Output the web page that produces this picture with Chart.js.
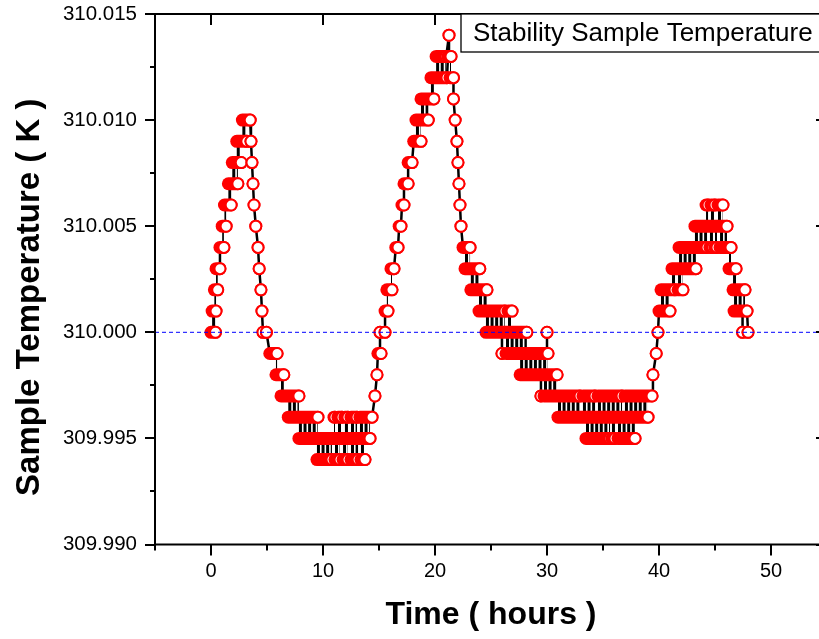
<!DOCTYPE html>
<html>
<head>
<meta charset="utf-8">
<script src="https://cdn.jsdelivr.net/npm/chart.js@4.4.1/dist/chart.umd.min.js"></script>
<style>
  html, body { margin: 0; padding: 0; background: #fff; overflow: hidden; }
  #wrap { position: relative; width: 840px; height: 639px; }
</style>
</head>
<body>
<div id="wrap"><canvas id="chart"></canvas></div>
<script>
// setpoint and axis ticks
const setpointK = 310.000;
const xTickValues = [0, 10, 20, 30, 40, 50];
const xMinorTicks = [-5, 5, 15, 25, 35, 45, 55];
const yTickValues = [309.990, 309.995, 310.000, 310.005, 310.010, 310.015];
const yMinorTicks = [309.9925, 309.9975, 310.0025, 310.0075, 310.0125];

// time windows (hours) in which the sensor kept reading a value (K),
// sorted by start; windows of neighbouring values overlap where the reading flickers
const runStart = [
  0.00, 0.10, 0.30, 0.45, 0.80, 1.00, 1.20, 1.55, 1.90, 2.30,
  2.80, 3.57, 3.66, 3.75, 3.84, 4.00, 4.20, 4.30, 4.46, 4.55,
  4.64, 4.95, 5.25, 5.80, 6.25, 6.90, 7.85, 9.46, 10.98, 11.07,
  11.34, 11.79, 11.96, 12.50, 12.50, 13.30, 13.39, 14.64, 14.82, 14.90,
  15.09, 15.54, 15.54, 15.70, 16.07, 16.50, 16.80, 17.05, 17.23, 17.60,
  18.10, 18.30, 18.75, 19.64, 20.10, 21.16, 21.25, 21.34, 21.65, 21.80,
  21.96, 22.05, 22.14, 22.23, 22.32, 22.50, 22.68, 23.20, 23.93, 24.55,
  25.98, 26.34, 26.52, 27.60, 29.46, 29.73, 30.00, 30.98, 33.21, 33.48,
  34.55, 35.80, 36.34, 36.96, 39.46, 39.75, 39.91, 40.00, 40.18, 41.16,
  41.70, 41.79, 43.21, 44.20, 44.55, 44.64, 45.00, 45.27, 45.45, 46.25,
  46.61, 46.70, 47.46, 47.95
];
const runEnd = [
  0.40, 0.45, 0.60, 0.80, 1.15, 1.35, 1.80, 2.40, 2.70, 3.20,
  3.50, 3.57, 3.66, 3.75, 3.84, 4.00, 4.20, 4.30, 4.46, 4.55,
  4.64, 4.95, 5.90, 6.50, 7.85, 9.55, 14.20, 10.80, 11.07, 11.52,
  11.70, 12.23, 12.23, 13.13, 13.04, 14.38, 13.75, 14.64, 14.82, 15.18,
  15.09, 15.54, 15.80, 16.16, 16.34, 16.70, 16.96, 17.23, 17.60, 17.95,
  18.75, 19.40, 19.90, 21.07, 21.00, 21.43, 21.25, 21.65, 21.65, 21.80,
  21.96, 22.05, 22.14, 22.23, 22.32, 23.13, 24.00, 24.64, 26.25, 28.20,
  25.98, 30.09, 26.88, 30.90, 29.46, 32.95, 30.00, 39.02, 34.29, 35.63,
  36.70, 36.07, 37.86, 39.38, 39.46, 39.75, 39.91, 40.98, 41.43, 43.30,
  42.14, 44.29, 46.07, 44.38, 44.82, 45.00, 45.18, 45.71, 46.43, 46.88,
  47.68, 47.86, 47.46, 47.95
];
const runTemp = [
  310.000, 310.001, 310.002, 310.003, 310.004, 310.005, 310.006, 310.007, 310.008, 310.009,
  310.010, 310.009, 310.008, 310.007, 310.006, 310.005, 310.004, 310.003, 310.002, 310.001,
  310.000, 310.000, 309.999, 309.998, 309.997, 309.996, 309.995, 309.994, 309.996, 309.994,
  309.996, 309.994, 309.996, 309.994, 309.996, 309.996, 309.994, 309.997, 309.998, 309.999,
  310.000, 310.000, 310.001, 310.002, 310.003, 310.004, 310.005, 310.006, 310.007, 310.008,
  310.009, 310.010, 310.011, 310.012, 310.013, 310.013, 310.014, 310.012, 310.011, 310.010,
  310.009, 310.008, 310.007, 310.006, 310.005, 310.004, 310.003, 310.002, 310.001, 310.000,
  309.999, 309.999, 310.001, 309.998, 309.997, 309.997, 310.000, 309.996, 309.997, 309.995,
  309.997, 309.995, 309.995, 309.997, 309.998, 309.999, 310.000, 310.001, 310.002, 310.003,
  310.002, 310.004, 310.005, 310.006, 310.004, 310.006, 310.004, 310.006, 310.004, 310.003,
  310.002, 310.001, 310.000, 310.000
];

const FONT = "'Liberation Sans', Arial, sans-serif";
const RED = '#ff0000';
const N = runStart.length;

// black connecting line: clusters of strokes where two neighbouring readings flicker,
// single strokes where the reading just steps from one value to the next
const flicker = [];
const steps = [];
for (let i = 0; i < N; i++) {
  for (let j = 0; j < N; j++) {
    if (i === j) continue;
    if (Math.abs(Math.abs(runTemp[i] - runTemp[j]) - 0.001) > 0.0002) continue;
    if (runStart[i] > runStart[j] || (runStart[i] === runStart[j] && i > j)) continue;
    const mid = (runTemp[i] + runTemp[j]) / 2;
    if (runStart[j] <= runEnd[i]) {
      const t2 = Math.min(runEnd[i], runEnd[j]);
      if (t2 - runStart[j] >= 0.05) {
        flicker.push({ x: runStart[j], y: mid }, { x: t2, y: mid }, { x: t2, y: null });
      } else {
        steps.push({ x: runStart[j], y: runTemp[i] }, { x: runStart[j], y: runTemp[j] }, { x: runStart[j], y: null });
      }
    } else if (runStart[j] - runEnd[i] <= 0.31) {
      steps.push({ x: runEnd[i], y: runTemp[i] }, { x: runStart[j], y: runTemp[j] }, { x: runStart[j], y: null });
    }
  }
}

const datasets = [];
datasets.push({
  label: 'flicker', data: flicker,
  borderColor: '#000', borderWidth: 21, borderCapStyle: 'butt', borderDash: [3, 1.6],
  pointRadius: 0,
  order: N + 2
});
datasets.push({
  label: 'steps', data: steps,
  borderColor: '#000', borderWidth: 2.5, pointRadius: 0,
  order: N + 1
});
// stacked symbols of one window: a red band closed by an open circle
runStart.forEach((s, i) => {
  datasets.push({
    label: 'run' + i,
    data: [{ x: s, y: runTemp[i] }, { x: runEnd[i], y: runTemp[i] }],
    borderColor: RED, borderWidth: 13, borderCapStyle: 'round',
    pointRadius: [0, 5.5],
    pointBackgroundColor: '#fff', pointBorderColor: RED, pointBorderWidth: 2,
    order: N - i
  });
});
// setpoint reference line
datasets.push({
  label: 'setpoint',
  data: [{ x: -5, y: setpointK }, { x: 55, y: setpointK }],
  borderColor: '#0000ff', borderWidth: 1, borderDash: [4, 3], pointRadius: 0,
  order: 0
});

// frame, ticks, y title and the legend box
const framePlugin = {
  id: 'frame',
  afterDatasetsDraw(chart) {
    const { ctx, chartArea: a, scales: { x, y } } = chart;
    ctx.save();
    ctx.strokeStyle = '#000';
    ctx.lineWidth = 2;
    ctx.strokeRect(a.left, a.top, a.right - a.left, a.bottom - a.top);
    ctx.beginPath();
    xTickValues.forEach(v => {
      const p = Math.round(x.getPixelForValue(v));
      ctx.moveTo(p, a.bottom); ctx.lineTo(p, a.bottom + 11);
      ctx.moveTo(p, a.top); ctx.lineTo(p, a.top + 11);
    });
    xMinorTicks.forEach(v => {
      const p = Math.round(x.getPixelForValue(v));
      ctx.moveTo(p, a.bottom); ctx.lineTo(p, a.bottom + 6);
    });
    yTickValues.forEach(v => {
      const p = Math.round(y.getPixelForValue(v));
      ctx.moveTo(a.left - 10, p); ctx.lineTo(a.left, p);
      ctx.moveTo(a.right - 11, p); ctx.lineTo(a.right, p);
    });
    yMinorTicks.forEach(v => {
      const p = Math.round(y.getPixelForValue(v));
      ctx.moveTo(a.left - 5, p); ctx.lineTo(a.left, p);
    });
    ctx.stroke();

    // y axis title
    ctx.fillStyle = '#000';
    ctx.save();
    ctx.translate(30, (a.top + a.bottom) / 2 + 18);
    ctx.rotate(-Math.PI / 2);
    ctx.font = 'bold 33px ' + FONT;
    ctx.textAlign = 'center';
    ctx.textBaseline = 'middle';
    ctx.fillText('Sample Temperature ( K )', 0, 0);
    ctx.restore();

    // legend
    const bx = a.right - 366, by = a.top, bh = 38;
    ctx.fillStyle = '#fff';
    ctx.fillRect(bx, by, a.right - bx, bh);
    ctx.lineWidth = 1.3;
    ctx.strokeRect(bx, by, a.right - bx, bh);
    ctx.fillStyle = '#000';
    ctx.font = '26px ' + FONT;
    ctx.textBaseline = 'middle';
    ctx.fillText('Stability Sample Temperature', bx + 12, by + bh / 2 + 1);
    ctx.restore();
  }
};

new Chart(document.getElementById('chart'), {
  type: 'line',
  data: { datasets: datasets },
  options: {
    responsive: true,
    maintainAspectRatio: false,
    animation: false,
    events: [],
    layout: { padding: { top: 14, right: 13, bottom: 0, left: 0 } },
    plugins: { legend: { display: false }, tooltip: { enabled: false } },
    scales: {
      x: {
        type: 'linear', min: -5, max: 55,
        grid: { display: false, drawTicks: false },
        border: { display: false },
        afterBuildTicks: s => { s.ticks = xTickValues.map(v => ({ value: v })); },
        afterFit: s => { s.height = 94.5; s.paddingLeft = 0; s.paddingRight = 0; },
        ticks: { color: '#000', font: { family: FONT, size: 20 }, padding: 15, maxRotation: 0, autoSkip: false,
                 callback: v => String(v) },
        title: { display: true, text: 'Time ( hours )', color: '#000',
                 font: { family: FONT, size: 32, weight: 'bold' }, padding: { top: 0, bottom: 5 } }
      },
      y: {
        type: 'linear', min: 309.990, max: 310.015,
        grid: { display: false, drawTicks: false },
        border: { display: false },
        afterBuildTicks: s => { s.ticks = yTickValues.map(v => ({ value: v })); },
        afterFit: s => { s.width = 155; s.paddingTop = 0; s.paddingBottom = 0; },
        ticks: { color: '#000', font: { family: FONT, size: 20.5 }, padding: 18, autoSkip: false,
                 callback: v => v.toFixed(3) }
      }
    }
  },
  plugins: [framePlugin]
});
</script>
</body>
</html>
